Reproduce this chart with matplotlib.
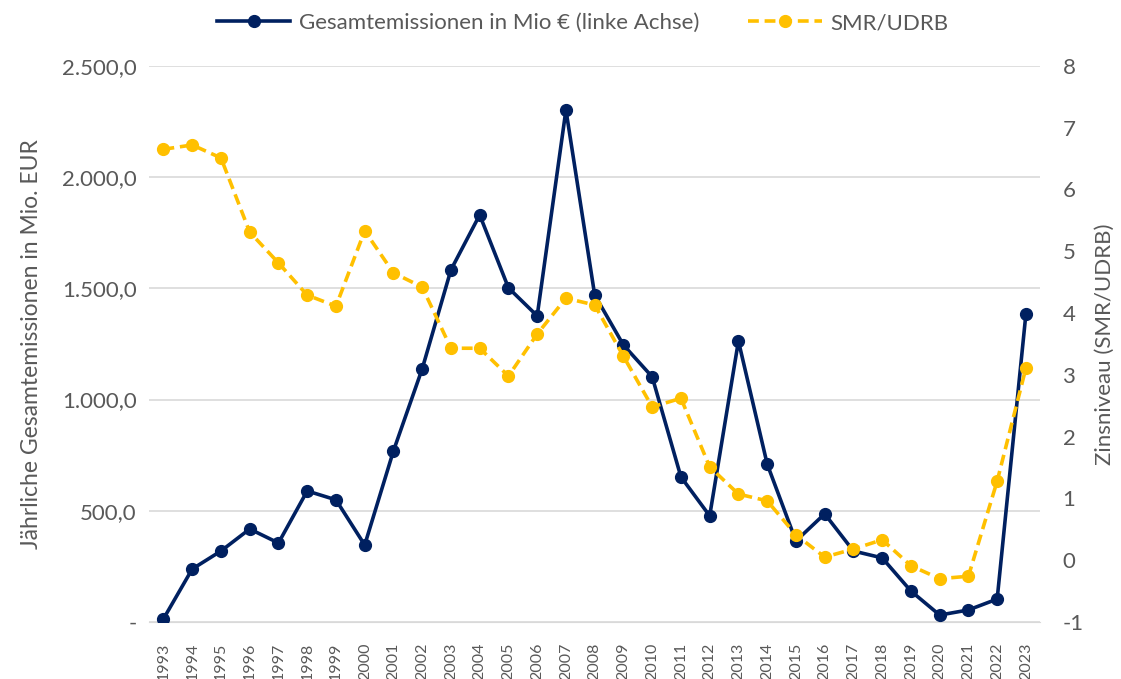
import matplotlib.pyplot as plt
from matplotlib.ticker import FuncFormatter
from matplotlib.lines import Line2D

years = list(range(1993, 2024))
emissions = [14, 238, 319, 418, 355, 589, 549, 346, 769, 1138,
             1583, 1830, 1502, 1376, 2302, 1470, 1245, 1102, 652, 477,
             1263, 710, 364, 486, 319, 288, 139, 31, 54, 103, 1385]
smr_udrb = [6.65, 6.72, 6.51, 5.31, 4.81, 4.29, 4.11, 5.33, 4.65, 4.42,
            3.43, 3.43, 2.98, 3.66, 4.24, 4.13, 3.30, 2.48, 2.62, 1.51,
            1.07, 0.96, 0.41, 0.05, 0.18, 0.33, -0.09, -0.30, -0.26, 1.28, 3.11]

navy = "#002060"
gold = "#FFC000"
grey = "#595959"

plt.rcParams['font.family'] = ['Lato', 'DejaVu Sans']
plt.rcParams['axes.unicode_minus'] = False

fig = plt.figure(figsize=(11.21, 6.79), dpi=100)
ax = fig.add_axes([0.133, 0.084, 0.795, 0.819])
ax2 = ax.twinx()


def de_fmt(v, pos):
    if abs(v) < 1e-9:
        return "-"
    s = f"{v:,.1f}"
    return s.replace(",", "X").replace(".", ",").replace("X", ".")


ax.plot(years, emissions, color=navy, lw=2.6, marker="o", ms=8.5, zorder=3)
ax2.plot(years, smr_udrb, color=gold, lw=2.6, ls=(0, (3, 1.6)), marker="o", ms=8.5,
         markeredgecolor=gold, zorder=3)

ax.set_xlim(1992.5, 2023.5)
ax.set_ylim(0, 2500)
ax.set_yticks([0, 500, 1000, 1500, 2000, 2500])
ax.yaxis.set_major_formatter(FuncFormatter(de_fmt))
ax2.set_ylim(-1, 8)
ax2.set_yticks(range(-1, 9))

ax.set_xticks(years)
ax.set_xticklabels([str(y) for y in years], rotation=90, fontsize=11.5, color=grey)
ax.grid(axis="y", color="#D9D9D9", lw=1.2)
ax.set_axisbelow(True)

for a in (ax, ax2):
    for sp in a.spines.values():
        sp.set_visible(False)
    a.tick_params(length=0, colors=grey)

ax.spines["bottom"].set_visible(True)
ax.spines["bottom"].set_color("#D9D9D9")
ax.tick_params(axis="y", labelsize=16, pad=9)
ax2.tick_params(axis="y", labelsize=16, pad=16)
ax.tick_params(axis="x", pad=15)

ax.set_ylabel("Jährliche Gesamtemissionen in Mio. EUR", fontsize=16.5, color=grey, labelpad=14)
ax2.set_ylabel("Zinsniveau (SMR/UDRB)", fontsize=16, color=grey, labelpad=8)

handles = [
    Line2D([], [], color=navy, lw=2.6, marker="o", ms=8.5),
    Line2D([], [], color=gold, lw=2.6, ls=(0, (3, 1.6)), marker="o", ms=8.5),
]
fig.legend(handles, ["Gesamtemissionen in Mio € (linke Achse)", "SMR/UDRB"],
           loc="upper center", bbox_to_anchor=(0.52, 1.01), ncol=2, frameon=False,
           fontsize=16, labelcolor=grey, handlelength=3.3, columnspacing=2.2,
           handletextpad=0.4)

fig.savefig("out.png", dpi=100)
